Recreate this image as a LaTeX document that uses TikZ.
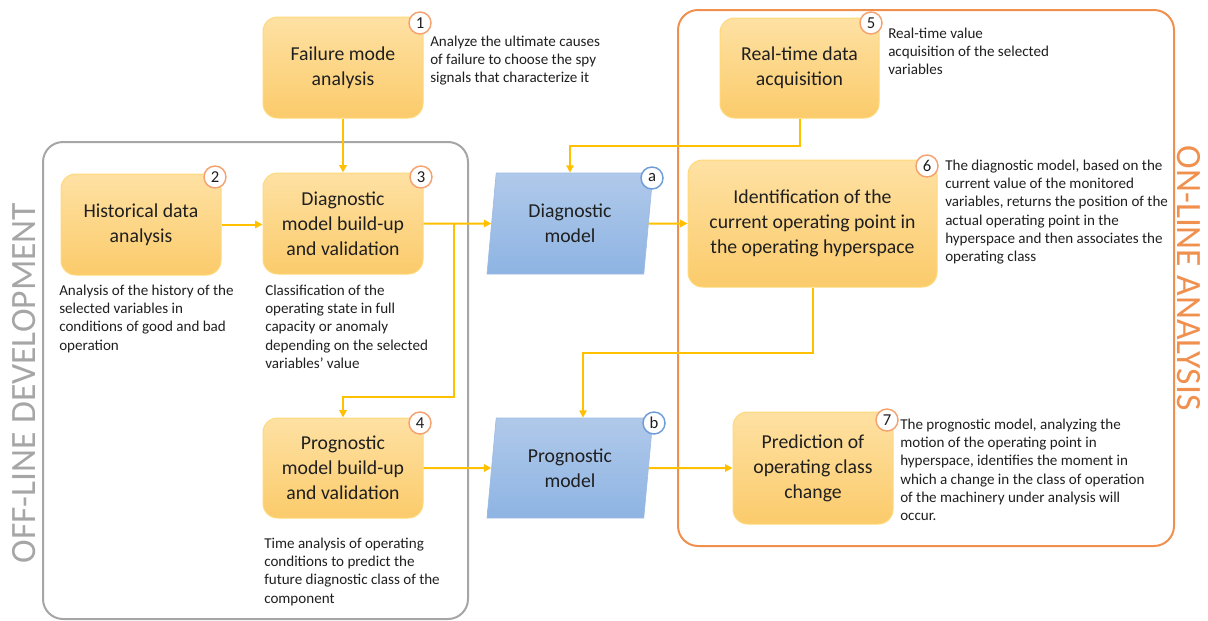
\documentclass[tikz,border=0pt]{standalone}
\usepackage{fontspec}
\setmainfont{Carlito}
\usetikzlibrary{arrows.meta,shapes.geometric,calc}
\definecolor{boxtop}{HTML}{FEE1A3}
\definecolor{boxbot}{HTML}{FBCB6B}
\definecolor{boxline}{HTML}{FFD979}
\definecolor{bluetop}{HTML}{B0C9EA}
\definecolor{bluebot}{HTML}{8EB4E3}
\definecolor{blueline}{HTML}{9DBBE3}
\definecolor{arrowc}{HTML}{FFC000}
\definecolor{orangef}{HTML}{F0904E}
\definecolor{badgeo}{HTML}{F4A26F}
\definecolor{badgeb}{HTML}{6E9CD8}
\definecolor{grayf}{HTML}{A6A6A6}
\definecolor{txt}{HTML}{1F1F1F}
\begin{document}
\begin{tikzpicture}[x=0.75pt,y=-0.75pt,
  stepbox/.style={rectangle, rounded corners=11pt, top color=boxtop, bottom color=boxbot,
    draw=boxline, line width=0.75pt, align=center, text=txt,
    font=\fontsize{14.8}{18.7}\selectfont, inner sep=0pt},
  modelbox/.style={trapezium, trapezium left angle=76.6, trapezium right angle=103.4,
    trapezium stretches body, top color=bluetop, bottom color=bluebot, draw=blueline,
    line width=0.5pt, align=center, text=txt, font=\fontsize{14.8}{18.7}\selectfont,
    inner sep=0pt, minimum width=124.5pt},
  badge/.style={circle, fill=white, draw=badgeo, line width=1.1pt, minimum size=16.5pt,
    inner sep=0pt, text=txt, font=\fontsize{12.5}{12.5}\selectfont},
  bluebadge/.style={badge, draw=badgeb},
  note/.style={anchor=north west, align=left, inner sep=0pt, text=txt,
    font=\fontsize{11.3}{13.7}\selectfont},
  arr/.style={draw=arrowc, line width=1.5pt, -{Triangle[length=5.5pt,width=5.5pt]}},
  frame/.style={line width=1.5pt, rounded corners=15pt}]
\useasboundingbox (0,0) rectangle (1208,621);

% frames
\draw[frame, grayf] (43,142) rectangle (468,619);
\draw[frame, orangef] (678,10) rectangle (1174,546);
\node[rotate=90, text=grayf, font=\fontsize{26.7}{26.7}\selectfont, inner sep=0pt] (offl) at (24,383) {OFF-LINE DEVELOPMENT};
\node[rotate=-90, text=orangef, font=\fontsize{26.7}{26.7}\selectfont, inner sep=0pt] (onl) at (1189,278) {ON-LINE ANALYSIS};

% boxes
\node[stepbox, minimum width=120pt, minimum height=75.75pt] (fm) at (343,67.5) {Failure mode\\analysis};
\node[stepbox, minimum width=120pt, minimum height=75.75pt] (hd) at (141,224.5) {Historical data\\analysis};
\node[stepbox, minimum width=120pt, minimum height=75.75pt] (db) at (343,223.5) {Diagnostic\\model build-up\\and validation};
\node[stepbox, minimum width=120pt, minimum height=75pt] (pb) at (343,468) {Prognostic\\model build-up\\and validation};
\node[stepbox, minimum width=119.25pt, minimum height=75pt] (rt) at (799.5,68) {Real-time data\\acquisition};
\node[stepbox, minimum width=186.75pt, minimum height=95.25pt] (id) at (812.5,223.5) {Identification of the\\current operating point in\\the operating hyperspace};
\node[stepbox, minimum width=120pt, minimum height=84pt] (pr) at (813,468) {Prediction of\\operating class\\change};
\node[modelbox, minimum height=75.75pt] (dm) at (570,223.5) {Diagnostic\\model};
\node[modelbox, minimum height=75pt] (pm) at (570,468) {Prognostic\\model};

% badges
\node[badge] (b1) at (420,23) {1};
\node[badge] (b2) at (215,177) {2};
\node[badge] (b3) at (421,177) {3};
\node[badge] (b4) at (420,423) {4};
\node[badge] (b5) at (871,23) {5};
\node[badge] (b6) at (927,166) {6};
\node[badge] (b7) at (887,420) {7};
\node[bluebadge] (ba) at (652,178) {a};
\node[bluebadge] (bb) at (654,423) {b};

% notes
\node[note] (n1) at (430,35.5) {Analyze the ultimate causes\\of failure to choose the spy\\signals that characterize it};
\node[note] (n2) at (59,284.5) {Analysis of the history of the\\selected variables in\\conditions of good and bad\\operation};
\node[note] (n3) at (265,284.5) {Classification of the\\operating state in full\\capacity or anomaly\\depending on the selected\\variables' value};
\node[note] (n4) at (264,537.5) {Time analysis of operating\\conditions to predict the\\future diagnostic class of the\\component};
\node[note] (n5) at (888,27.5) {Real-time value\\acquisition of the selected\\variables};
\node[note] (n6) at (945,159.5) {The diagnostic model, based on the\\current value of the monitored\\variables, returns the position of the\\actual operating point in the\\hyperspace and then associates the\\operating class};
\node[note] (n7) at (900,418.5) {The prognostic model, analyzing the\\motion of the operating point in\\hyperspace, identifies the moment in\\which a change in the class of operation\\of the machinery under analysis will\\occur.};

% connectors
\coordinate (br) at ($(db.east)+(30,0)$);
\draw[arr] (fm.south) -- (db.north);
\draw[arr] (hd.east) -- (hd.east -| db.west);
\draw[arr] (db.east) -- (dm.west);
\draw[arr] (br) |- ($(pb.north)+(0,-21)$) -- (pb.north);
\draw[arr] (rt.south) -- ++(0,27) -| (dm.north);
\draw[arr] (dm.east) -- (id.west);
\draw[arr] (id.south) -- ++(0,65) -| ($(pm.north)+(13,0)$);
\draw[arr] (pb.east) -- (pm.west);
\draw[arr] (pm.east) -- (pr.west);
\end{tikzpicture}
\end{document}
